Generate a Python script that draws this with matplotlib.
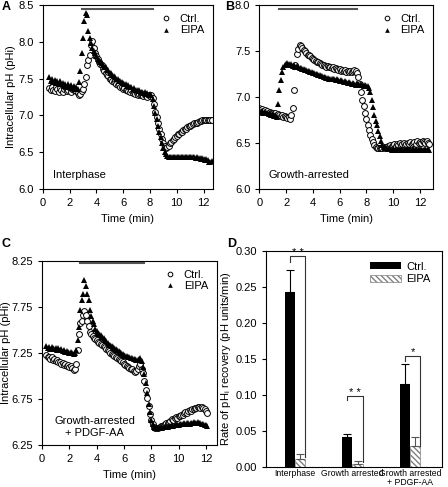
import numpy as np
import matplotlib.pyplot as plt

plt.rcParams['font.family'] = ['Liberation Sans', 'DejaVu Sans']
plt.rcParams['font.size'] = 8

# ---- Panel A: interphase (time 0.5 .. 12.6 min, every 0.1 min)
time_a = np.round(np.arange(0.5, 12.65, 0.1), 1)
ctrl_a = [7.37, 7.34, 7.39, 7.35, 7.33, 7.38, 7.36, 7.32, 7.37, 7.34,
          7.31, 7.36, 7.38, 7.33, 7.35, 7.37, 7.32, 7.36, 7.34, 7.35,
          7.33, 7.30, 7.27, 7.29, 7.33, 7.36, 7.42, 7.52, 7.68, 7.75,
          7.82, 7.95, 8.01, 7.92, 7.85, 7.80, 7.76, 7.72, 7.70, 7.68,
          7.63, 7.60, 7.57, 7.55, 7.53, 7.50, 7.49, 7.47, 7.45, 7.46,
          7.43, 7.41, 7.42, 7.39, 7.38, 7.36, 7.37, 7.34, 7.35, 7.33,
          7.32, 7.34, 7.30, 7.31, 7.29, 7.30, 7.28, 7.29, 7.27, 7.28,
          7.26, 7.28, 7.27, 7.25, 7.27, 7.26, 7.27, 7.24, 7.15, 7.05,
          6.98, 6.90, 6.82, 6.75, 6.68, 6.62, 6.58, 6.56, 6.57, 6.59,
          6.62, 6.64, 6.66, 6.68, 6.70, 6.72, 6.74, 6.75, 6.77, 6.78,
          6.80, 6.81, 6.82, 6.84, 6.85, 6.86, 6.87, 6.88, 6.89, 6.90,
          6.90, 6.91, 6.92, 6.92, 6.93, 6.93, 6.94, 6.94, 6.93, 6.94,
          6.94, 6.93]
eipa_a = [7.52, 7.47, 7.50, 7.45, 7.48, 7.44, 7.47, 7.43, 7.46, 7.42,
          7.44, 7.40, 7.43, 7.39, 7.42, 7.38, 7.41, 7.37, 7.40, 7.36,
          7.38, 7.36, 7.45, 7.60, 7.85, 8.05, 8.28, 8.39, 8.36, 8.15,
          8.05, 7.98, 7.92, 7.88, 7.84, 7.80, 7.77, 7.75, 7.72, 7.71,
          7.68, 7.66, 7.65, 7.62, 7.61, 7.58, 7.57, 7.55, 7.54, 7.52,
          7.50, 7.49, 7.47, 7.47, 7.45, 7.44, 7.42, 7.43, 7.40, 7.41,
          7.38, 7.39, 7.36, 7.37, 7.34, 7.35, 7.33, 7.34, 7.31, 7.32,
          7.30, 7.31, 7.29, 7.30, 7.28, 7.29, 7.27, 7.22, 7.12, 7.03,
          6.95, 6.86, 6.78, 6.70, 6.62, 6.55, 6.50, 6.47, 6.45, 6.44,
          6.44, 6.43, 6.44, 6.43, 6.44, 6.44, 6.43, 6.44, 6.44, 6.43,
          6.44, 6.43, 6.44, 6.44, 6.43, 6.43, 6.44, 6.43, 6.43, 6.42,
          6.43, 6.42, 6.42, 6.41, 6.42, 6.41, 6.40, 6.41, 6.39, 6.37,
          6.36, 6.38]

# ---- Panel B: growth-arrested (time 0.0 .. 12.7 min)
time_b = np.round(np.arange(0.0, 12.75, 0.1), 1)
ctrl_b = [6.88, 6.86, 6.87, 6.85, 6.86, 6.84, 6.85, 6.83, 6.84, 6.82,
          6.83, 6.81, 6.82, 6.80, 6.81, 6.80, 6.79, 6.80, 6.78, 6.79,
          6.78, 6.77, 6.78, 6.76, 6.80, 6.88, 7.08, 7.35, 7.47, 7.52,
          7.56, 7.55, 7.53, 7.51, 7.50, 7.48, 7.46, 7.45, 7.44, 7.42,
          7.41, 7.40, 7.39, 7.38, 7.38, 7.37, 7.36, 7.35, 7.35, 7.34,
          7.33, 7.34, 7.32, 7.33, 7.31, 7.32, 7.30, 7.31, 7.30, 7.29,
          7.30, 7.28, 7.29, 7.28, 7.29, 7.27, 7.28, 7.27, 7.28, 7.27,
          7.28, 7.29, 7.28, 7.26, 7.22, 7.14, 7.05, 6.97, 6.90, 6.83,
          6.76, 6.70, 6.64, 6.59, 6.54, 6.51, 6.48, 6.46, 6.45, 6.44,
          6.44, 6.45, 6.44, 6.46, 6.45, 6.46, 6.47, 6.46, 6.48, 6.47,
          6.48, 6.49, 6.47, 6.49, 6.48, 6.50, 6.48, 6.49, 6.50, 6.48,
          6.49, 6.50, 6.49, 6.51, 6.49, 6.50, 6.51, 6.49, 6.52, 6.50,
          6.51, 6.50, 6.52, 6.51, 6.50, 6.52, 6.50, 6.49]
eipa_b = [6.86, 6.84, 6.85, 6.83, 6.84, 6.82, 6.83, 6.81, 6.82, 6.80,
          6.81, 6.79, 6.80, 6.78, 6.92, 7.08, 7.18, 7.27, 7.32, 7.35,
          7.36, 7.37, 7.36, 7.35, 7.36, 7.34, 7.35, 7.33, 7.34, 7.32,
          7.31, 7.31, 7.30, 7.30, 7.29, 7.29, 7.28, 7.28, 7.27, 7.27,
          7.26, 7.26, 7.25, 7.25, 7.24, 7.24, 7.23, 7.23, 7.22, 7.22,
          7.21, 7.21, 7.20, 7.20, 7.19, 7.20, 7.19, 7.18, 7.19, 7.18,
          7.17, 7.18, 7.17, 7.16, 7.17, 7.16, 7.15, 7.16, 7.15, 7.14,
          7.15, 7.14, 7.13, 7.15, 7.14, 7.13, 7.14, 7.13, 7.12, 7.13,
          7.12, 7.12, 7.10, 7.05, 6.97, 6.89, 6.80, 6.74, 6.69, 6.63,
          6.57, 6.52, 6.48, 6.46, 6.45, 6.44, 6.43, 6.44, 6.43, 6.42,
          6.43, 6.42, 6.43, 6.42, 6.43, 6.42, 6.43, 6.42, 6.42, 6.43,
          6.42, 6.43, 6.42, 6.43, 6.42, 6.43, 6.42, 6.43, 6.42, 6.43,
          6.42, 6.43, 6.42, 6.42, 6.43, 6.42, 6.43, 6.42]

# ---- Panel C: growth-arrested + PDGF-AA (time 0.3 .. 12.1 min)
time_c = np.round(np.arange(0.3, 12.15, 0.1), 1)
ctrl_c = [7.23, 7.20, 7.21, 7.18, 7.20, 7.17, 7.18, 7.16, 7.17, 7.15,
          7.15, 7.13, 7.14, 7.12, 7.13, 7.11, 7.12, 7.10, 7.11, 7.09,
          7.06, 7.08, 7.13, 7.28, 7.46, 7.57, 7.60, 7.66, 7.70, 7.66,
          7.60, 7.54, 7.48, 7.45, 7.43, 7.41, 7.40, 7.39, 7.37, 7.36,
          7.35, 7.33, 7.32, 7.31, 7.29, 7.28, 7.27, 7.25, 7.24, 7.23,
          7.22, 7.21, 7.19, 7.18, 7.17, 7.16, 7.15, 7.13, 7.12, 7.11,
          7.10, 7.09, 7.08, 7.07, 7.05, 7.04, 7.05, 7.08, 7.11, 7.13,
          7.08, 7.03, 6.94, 6.85, 6.76, 6.67, 6.59, 6.52, 6.48, 6.45,
          6.44, 6.43, 6.44, 6.45, 6.46, 6.46, 6.47, 6.48, 6.49, 6.49,
          6.50, 6.51, 6.53, 6.52, 6.54, 6.55, 6.54, 6.56, 6.57, 6.58,
          6.58, 6.60, 6.61, 6.60, 6.62, 6.63, 6.62, 6.64, 6.64, 6.65,
          6.65, 6.66, 6.66, 6.65, 6.66, 6.65, 6.64, 6.62, 6.60]
eipa_c = [7.32, 7.30, 7.31, 7.29, 7.31, 7.30, 7.29, 7.30, 7.28, 7.30,
          7.28, 7.29, 7.27, 7.28, 7.26, 7.27, 7.26, 7.25, 7.26, 7.25,
          7.24, 7.25, 7.28, 7.39, 7.53, 7.71, 7.82, 7.89, 8.04, 7.98,
          7.89, 7.82, 7.71, 7.65, 7.60, 7.56, 7.51, 7.49, 7.47, 7.45,
          7.44, 7.42, 7.41, 7.39, 7.38, 7.36, 7.34, 7.33, 7.32, 7.31,
          7.30, 7.29, 7.28, 7.27, 7.26, 7.25, 7.24, 7.23, 7.22, 7.22,
          7.21, 7.20, 7.19, 7.19, 7.18, 7.18, 7.17, 7.17, 7.18, 7.19,
          7.16, 7.10, 7.02, 6.92, 6.81, 6.70, 6.61, 6.52, 6.48, 6.45,
          6.44, 6.43, 6.44, 6.44, 6.45, 6.44, 6.45, 6.45, 6.46, 6.45,
          6.46, 6.46, 6.47, 6.46, 6.47, 6.47, 6.48, 6.47, 6.48, 6.48,
          6.48, 6.49, 6.48, 6.49, 6.49, 6.48, 6.49, 6.49, 6.50, 6.49,
          6.49, 6.50, 6.49, 6.49, 6.48, 6.48, 6.47, 6.47, 6.46]

# treatment bars (start, end, pH level)
bar_a = (2.9, 8.2, 8.45)
bar_b = (1.5, 7.3, 7.95)
bar_c = (2.8, 7.5, 8.22)

# ---- Panel D: recovery rates
groups = ['Interphase', 'Growth arrested', 'Growth arrested\n+ PDGF-AA']
rate_ctrl = [0.242, 0.041, 0.115]
err_ctrl = [0.031, 0.004, 0.028]
rate_eipa = [0.011, 0.004, 0.029]
err_eipa = [0.006, 0.004, 0.012]
bracket_top = [0.292, 0.098, 0.154]
bracket_left = [0.285, 0.092, 0.147]
bracket_right = [0.014, 0.006, 0.029]
stars = ['* *', '* *', '*']


def trace_panel(ax, t, ctrl, eipa, xlim, ylim, yticks, bar, note, note_xy):
    ax.plot(t, ctrl, 'o', ms=4.2, mfc='white', mec='black', mew=0.7, label='Ctrl.')
    ax.plot(t, eipa, '^', ms=4.2, color='black', mew=0, label='EIPA')
    ax.plot([bar[0], bar[1]], [bar[2], bar[2]], color='#555555', lw=1.5)
    ax.set_xlim(*xlim)
    ax.set_ylim(*ylim)
    ax.set_xticks([0, 2, 4, 6, 8, 10, 12])
    ax.set_yticks(yticks)
    ax.set_xlabel('Time (min)', labelpad=4)
    ax.tick_params(direction='out', length=3, width=0.8, top=False, right=False)
    for s in ax.spines.values():
        s.set_linewidth(0.8)
    ax.text(note_xy[0], note_xy[1], note, transform=ax.transAxes, ha='left', va='bottom')
    leg = ax.legend(loc='upper right', frameon=False, handlelength=1.0, handletextpad=0.7,
                    labelspacing=0.15, borderaxespad=0.4, fontsize=8, markerscale=0.8)
    return leg


fig = plt.figure(figsize=(4.48, 4.87), dpi=100)

ax_a = fig.add_axes([0.0953, 0.612, 0.380, 0.378])
trace_panel(ax_a, time_a, ctrl_a, eipa_a, (0, 12.7), (6.0, 8.5),
            [6.0, 6.5, 7.0, 7.5, 8.0, 8.5], bar_a, 'Interphase', (0.06, 0.05))
ax_a.set_yticklabels(['6.0', '6.5', '7.0', '7.5', '8.0', '8.5'])
ax_a.set_ylabel('Intracellular pH (pHi)', labelpad=2)

ax_b = fig.add_axes([0.579, 0.612, 0.388, 0.378])
trace_panel(ax_b, time_b, ctrl_b, eipa_b, (0, 13.0), (6.0, 8.0),
            [6.0, 6.5, 7.0, 7.5, 8.0], bar_b, 'Growth-arrested', (0.05, 0.05))
ax_b.set_yticklabels(['6.0', '6.5', '7.0', '7.5', '8.0'])

ax_c = fig.add_axes([0.094, 0.0862, 0.390, 0.3785])
trace_panel(ax_c, time_c, ctrl_c, eipa_c, (0, 12.8), (6.25, 8.25),
            [6.25, 6.75, 7.25, 7.75, 8.25], bar_c, '', (0.05, 0.05))
ax_c.text(0.3, 0.04, 'Growth-arrested\n+ PDGF-AA', transform=ax_c.transAxes,
          ha='center', va='bottom', multialignment='center')
ax_c.set_ylabel('Intracellular pH (pHi)', labelpad=0)

ax_d = fig.add_axes([0.594, 0.0417, 0.392, 0.4435])
x = np.arange(1, len(groups) + 1)
w = 0.18
zeros = np.zeros(len(groups))
ax_d.bar(x - w / 2, rate_ctrl, w, color='black', label='Ctrl.',
         yerr=[zeros, err_ctrl], ecolor='black', capsize=3,
         error_kw=dict(lw=0.8, capthick=0.8))
ax_d.bar(x + w / 2, rate_eipa, w, color='white', edgecolor='#808080', linewidth=0.5,
         hatch='\\\\\\\\\\\\', label='EIPA',
         yerr=[zeros, err_eipa], ecolor='#555555', capsize=3,
         error_kw=dict(lw=0.8, capthick=0.8))
for i in range(len(groups)):
    xl = x[i] - w / 2
    xr = x[i] + w
    ax_d.plot([xl, xl, xr, xr], [bracket_left[i], bracket_top[i], bracket_top[i], bracket_right[i]],
              color='#333333', lw=0.8)
    ax_d.text((xl + xr) / 2, bracket_top[i] - 0.002, stars[i], ha='center', va='bottom', fontsize=8)
ax_d.set_xlim(0.5, 3.55)
ax_d.set_ylim(0, 0.30)
ax_d.set_yticks([0, 0.05, 0.10, 0.15, 0.20, 0.25, 0.30])
ax_d.set_yticklabels(['0.00', '0.05', '0.10', '0.15', '0.20', '0.25', '0.30'])
ax_d.set_xticks(x)
ax_d.set_xticklabels(groups, fontsize=6.2, linespacing=0.95)
ax_d.tick_params(axis='x', length=0, pad=2)
ax_d.tick_params(axis='y', direction='out', length=3, width=0.8)
for s in ax_d.spines.values():
    s.set_linewidth(0.8)
ax_d.set_ylabel('Rate of pH$_\\mathregular{i}$ recovery (pH units/min)', labelpad=2)
ax_d.legend(loc='upper right', frameon=False, handlelength=2.8, handleheight=0.6,
            handletextpad=0.5, labelspacing=0.2, borderaxespad=0.6, fontsize=8)

for lab, fx, fy in [('A', 0.003, 0.998), ('B', 0.503, 0.998), ('C', 0.003, 0.512), ('D', 0.507, 0.512)]:
    fig.text(fx, fy, lab, fontsize=9, fontweight='bold', ha='left', va='top')

fig.savefig('out.png', dpi=100)
